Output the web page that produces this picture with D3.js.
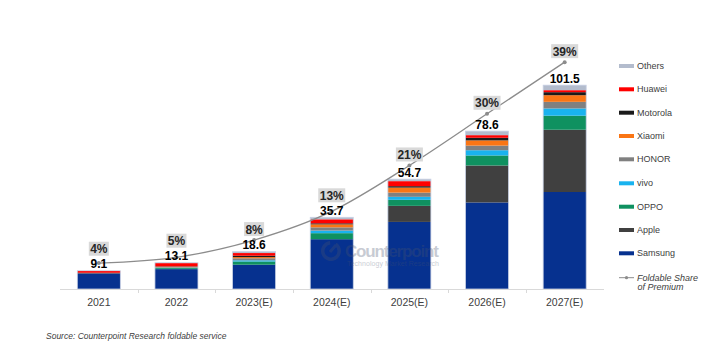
<!DOCTYPE html>
<html>
<head>
<meta charset="utf-8">
<script src="https://cdn.jsdelivr.net/npm/d3@7"></script>
<style>
    body { margin: 0; background: #fff; }
    #chart { width: 715px; height: 354px; }
    text { font-family: "Liberation Sans", Arial, sans-serif; }
</style>
</head>
<body>
<div id="chart"></div>
<script>
// years on the x axis
const years = ["2021", "2022", "2023(E)", "2024(E)", "2025(E)", "2026(E)", "2027(E)"];

// brands, bottom of the stack first
const brands = ["Samsung", "Apple", "OPPO", "vivo", "HONOR", "Xiaomi", "Motorola", "Huawei", "Others"];
const brandColors = ["#06318f", "#404040", "#0f9160", "#19b3ef", "#808080", "#fa7514", "#1a1a1a", "#ff0000", "#b3bccd"];

// shipments (M units) per brand, one value per year
const samsung  = [7.8, 9.9, 12.1, 24.8, 33.4, 43.1, 48.3];
const apple    = [0, 0, 0, 0, 8.0, 18.4, 31.0];
const oppo     = [0, 0.5, 1.6, 3.0, 3.0, 5.0, 7.0];
const vivo     = [0, 0.2, 0.6, 1.3, 1.5, 2.6, 3.6];
const honor    = [0, 0.3, 1.0, 1.6, 2.1, 2.3, 3.3];
const xiaomi   = [0.1, 0.2, 0.6, 1.5, 2.5, 2.6, 3.3];
const motorola = [0.2, 0.2, 0.7, 0.5, 0.7, 1.3, 1.5];
const huawei   = [0.9, 1.6, 1.3, 2.0, 2.5, 1.3, 1.0];
const others   = [0.1, 0.2, 0.7, 1.0, 1.0, 2.0, 2.5];

const totals = [9.1, 13.1, 18.6, 35.7, 54.7, 78.6, 101.5];
// foldable share of premium (%)
const share = [4, 5, 8, 13, 21, 30, 39];

class FoldPlot {
    constructor(parentElement) {
        this.parentElement = parentElement;
        this.series = [samsung, apple, oppo, vivo, honor, xiaomi, motorola, huawei, others];
        this.initVis();
    }

    initVis() {
        let vis = this;

        vis.svg = d3.select("#" + vis.parentElement).append("svg")
            .attr("width", 715)
            .attr("height", 354);

        // scales
        vis.x = d3.scaleBand().domain(years).range([60, 603.5])
            .paddingInner(0.446).paddingOuter(0.223);
        vis.y = d3.scaleLinear().domain([0, 120]).range([289, 48]);
        vis.yShare = d3.scaleLinear().domain([0, 50]).range([286, -1]);

        // stacked data
        vis.rows = years.map((yr, i) => {
            let row = {year: yr};
            brands.forEach((b, j) => row[b] = vis.series[j][i]);
            return row;
        });
        vis.stack = d3.stack().keys(brands)(vis.rows);

        // bars
        vis.svg.append("g").selectAll(".layer")
            .data(vis.stack)
            .enter()
            .append("g")
            .attr("class", "layer")
            .attr("fill", (d, i) => brandColors[i])
            .selectAll("rect")
            .data(d => d)
            .enter()
            .append("rect")
            .attr("x", d => vis.x(d.data.year))
            .attr("width", vis.x.bandwidth())
            .attr("y", d => vis.y(d[1]))
            .attr("height", d => vis.y(d[0]) - vis.y(d[1]));

        // thin light outline around each bar
        vis.svg.append("g").selectAll(".bar-outline")
            .data(years)
            .enter()
            .append("rect")
            .attr("class", "bar-outline")
            .attr("x", d => vis.x(d))
            .attr("width", vis.x.bandwidth())
            .attr("y", (d, i) => vis.y(totals[i]))
            .attr("height", (d, i) => vis.y(0) - vis.y(totals[i]))
            .attr("fill", "none")
            .attr("stroke", "#c8d0e4")
            .attr("stroke-width", 0.8);

        // watermark sits on top of the bars, faded
        vis.drawWatermark();

        // x axis with ticks at category boundaries
        let axis = vis.svg.append("g");
        axis.append("line")
            .attr("x1", 60).attr("x2", 604)
            .attr("y1", vis.y(0) + 0.5).attr("y2", vis.y(0) + 0.5)
            .attr("stroke", "#d9d9d9");
        axis.selectAll(".tick-mark")
            .data(years.slice(1))
            .enter()
            .append("line")
            .attr("x1", d => Math.round(vis.x(d) - vis.x.step() * vis.x.paddingInner() / 2) + 0.5)
            .attr("x2", d => Math.round(vis.x(d) - vis.x.step() * vis.x.paddingInner() / 2) + 0.5)
            .attr("y1", vis.y(0))
            .attr("y2", vis.y(0) + 4)
            .attr("stroke", "#d9d9d9");
        axis.selectAll(".tick-label")
            .data(years)
            .enter()
            .append("text")
            .attr("x", d => vis.x(d) + vis.x.bandwidth() / 2)
            .attr("y", 305.5)
            .attr("text-anchor", "middle")
            .attr("font-size", "10.5px")
            .attr("fill", "#404040")
            .text(d => d);

        // share line
        let cx = (d, i) => vis.x(years[i]) + vis.x.bandwidth() / 2;
        vis.svg.append("path")
            .datum(share)
            .attr("fill", "none")
            .attr("stroke", "#8c8c8c")
            .attr("stroke-width", 1.3)
            .attr("d", d3.line().curve(d3.curveMonotoneX).x(cx).y(d => vis.yShare(d)));
        vis.svg.append("g").selectAll(".share-dot")
            .data(share)
            .enter()
            .append("circle")
            .attr("cx", cx)
            .attr("cy", d => vis.yShare(d))
            .attr("r", 2)
            .attr("fill", "#8c8c8c");

        // totals above bars
        vis.svg.append("g").selectAll(".total")
            .data(totals)
            .enter()
            .append("text")
            .attr("x", (d, i) => vis.x(years[i]) + vis.x.bandwidth() / 2)
            .attr("y", d => vis.y(d) - 2.5)
            .attr("text-anchor", "middle")
            .attr("font-size", "12px")
            .attr("font-weight", "bold")
            .attr("fill", "#000")
            .text(d => d.toFixed(1));

        // share labels in grey boxes, kept clear of the total labels
        let labelY = (d, i) => Math.min(vis.yShare(d) - 11, vis.y(totals[i]) - 22);
        let labels = vis.svg.append("g").selectAll(".share-label")
            .data(share)
            .enter()
            .append("g")
            .attr("transform", (d, i) => `translate(${cx(d, i)},${labelY(d, i)})`);
        labels.append("rect")
            .attr("x", d => d >= 10 ? -13.5 : -10)
            .attr("width", d => d >= 10 ? 27 : 20)
            .attr("y", -7)
            .attr("height", 14)
            .attr("fill", "#d9d9d9");
        labels.append("text")
            .attr("y", 4.5)
            .attr("text-anchor", "middle")
            .attr("font-size", "12px")
            .attr("font-weight", "bold")
            .attr("fill", "#262626")
            .text(d => d + "%");

        vis.drawLegend();

        // source
        vis.svg.append("text")
            .attr("x", 46)
            .attr("y", 338.5)
            .attr("font-size", "8.5px")
            .attr("font-style", "italic")
            .attr("fill", "#404040")
            .text("Source: Counterpoint Research foldable service");
    }

    drawWatermark() {
        let vis = this;
        let wm = vis.svg.append("g").attr("opacity", 0.3);
        wm.append("path")
            .attr("d", d3.arc().innerRadius(6.5).outerRadius(10).startAngle(0.6).endAngle(2 * Math.PI - 0.1)())
            .attr("transform", "translate(331,251)")
            .attr("fill", "#4a5570");
        wm.append("line")
            .attr("x1", 330).attr("y1", 252).attr("x2", 336).attr("y2", 245)
            .attr("stroke", "#4a5570").attr("stroke-width", 3);
        wm.append("text")
            .attr("x", 345).attr("y", 257)
            .attr("font-size", "17px").attr("font-weight", "bold")
            .attr("textLength", 94)
            .attr("fill", "#4a5570")
            .text("Counterpoint");
        wm.append("text")
            .attr("x", 347).attr("y", 266)
            .attr("font-size", "7px")
            .attr("textLength", 92)
            .attr("fill", "#4a5570")
            .text("Technology Market Research");
    }

    drawLegend() {
        let vis = this;
        let legendY = [66, 89.3, 112.7, 136, 159.3, 183.3, 206.7, 230, 253.3];
        let order = brands.slice().reverse();
        let legend = vis.svg.append("g").attr("class", "legend");
        let items = legend.selectAll(".legend-item")
            .data(order)
            .enter()
            .append("g")
            .attr("transform", (d, i) => `translate(619,${legendY[i]})`);
        items.append("rect")
            .attr("x", 0).attr("y", -2)
            .attr("width", 15).attr("height", 4)
            .attr("fill", d => brandColors[brands.indexOf(d)]);
        items.append("text")
            .attr("x", 18).attr("y", 3)
            .attr("font-size", "9px")
            .attr("fill", "#404040")
            .text(d => d);

        let sl = legend.append("g").attr("transform", "translate(619,277.7)");
        sl.append("line")
            .attr("x1", 0).attr("x2", 15).attr("y1", 0).attr("y2", 0)
            .attr("stroke", "#8c8c8c").attr("stroke-width", 1);
        sl.append("circle").attr("cx", 7.5).attr("cy", 0).attr("r", 1.6).attr("fill", "#8c8c8c");
        sl.append("text")
            .attr("x", 18).attr("y", 3)
            .attr("font-size", "9px").attr("font-style", "italic").attr("fill", "#404040")
            .text("Foldable Share");
        sl.append("text")
            .attr("x", 18.5).attr("y", 12)
            .attr("font-size", "9px").attr("font-style", "italic").attr("fill", "#404040")
            .text("of Premium");
    }
}

new FoldPlot("chart");
</script>
</body>
</html>
